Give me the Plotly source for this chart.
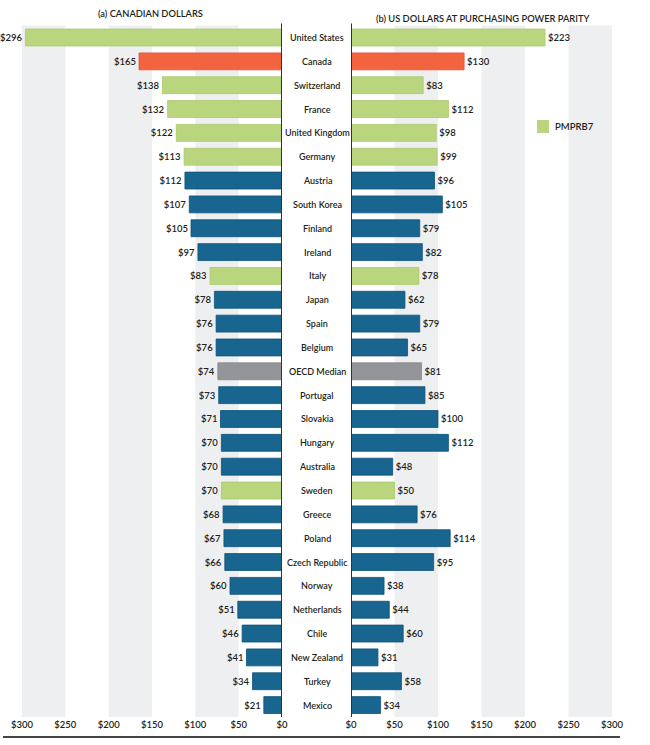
import plotly.graph_objects as go

countries = ["United States", "Canada", "Switzerland", "France", "United Kingdom", "Germany",
             "Austria", "South Korea", "Finland", "Ireland", "Italy", "Japan", "Spain", "Belgium",
             "OECD Median", "Portugal", "Slovakia", "Hungary", "Australia", "Sweden", "Greece",
             "Poland", "Czech Republic", "Norway", "Netherlands", "Chile", "New Zealand", "Turkey", "Mexico"]
cad_values = [296, 165, 138, 132, 122, 113, 112, 107, 105, 97, 83, 78, 76, 76, 74, 73, 71, 70, 70, 70,
              68, 67, 66, 60, 51, 46, 41, 34, 21]
usd_ppp_values = [223, 130, 83, 112, 98, 99, 96, 105, 79, 82, 78, 62, 79, 65, 81, 85, 100, 112, 48, 50,
                  76, 114, 95, 38, 44, 60, 31, 58, 34]
pmprb7 = ["United States", "Switzerland", "France", "United Kingdom", "Germany", "Italy", "Sweden"]
tick_values = [0, 50, 100, 150, 200, 250, 300]
tick_labels = ["$0", "$50", "$100", "$150", "$200", "$250", "$300"]

GREEN = "#b9d67f"
ORANGE = "#f26440"
BLUE = "#186590"
GRAY = "#939598"
BAND = "#eeeff1"
TXT = "#231f20"
FONT = "Lato"
W, H = 650, 745


def group_of(c):
    if c == "Canada":
        return "Canada"
    if c == "OECD Median":
        return "OECD"
    if c in pmprb7:
        return "PMPRB7"
    return "Other"


groups = [("PMPRB7", GREEN, "#a9c96c"), ("Canada", ORANGE, "#e0553a"),
          ("OECD", GRAY, "#858688"), ("Other", BLUE, "#0f5378")]

fig = go.Figure()
for panel, vals, xa in [("a", cad_values, "x"), ("b", usd_ppp_values, "x2")]:
    for g, col, edge in groups:
        ys = [c for c in countries if group_of(c) == g]
        xs = [v for c, v in zip(countries, vals) if group_of(c) == g]
        fig.add_trace(go.Bar(
            y=ys, x=xs, orientation="h", xaxis=xa, yaxis="y",
            marker=dict(color=col, line=dict(color=edge, width=0.8)),
            name=g, showlegend=False,
            text=["$%d" % v for v in xs], textposition="outside",
            textfont=dict(family=FONT, size=9.5, color=TXT, weight=600),
            cliponaxis=False, hoverinfo="skip",
        ))

shapes = []
for lo, hi in [(50, 100), (150, 200), (250, 300)]:
    for xr in ["x", "x2"]:
        shapes.append(dict(type="rect", xref=xr, yref="y domain", x0=lo, x1=hi, y0=0, y1=1,
                           fillcolor=BAND, line=dict(width=0), layer="below"))
for xr in ["x", "x2"]:
    shapes.append(dict(type="line", xref=xr, yref="y domain", x0=0, x1=0, y0=0, y1=1.003,
                       line=dict(color="#333333", width=2), layer="above"))
shapes.append(dict(type="line", xref="paper", yref="paper", x0=3 / W, x1=620 / W,
                   y0=1 - 737 / H, y1=1 - 737 / H, line=dict(color="#444444", width=2)))
# manual legend swatch
shapes.append(dict(type="rect", xref="paper", yref="paper", x0=537 / W, x1=549 / W,
                   y0=1 - 133 / H, y1=1 - 120 / H, fillcolor=GREEN, line=dict(width=0)))

annotations = []
for c in countries:
    annotations.append(dict(xref="paper", yref="y", x=317 / W, y=c, text=c, showarrow=False,
                            xanchor="center", yanchor="middle",
                            font=dict(family=FONT, size=9, color=TXT, weight=600)))
annotations.append(dict(xref="paper", yref="paper", x=150 / W, y=1 - 14 / H,
                        text="(a) CANADIAN DOLLARS", showarrow=False, xanchor="center",
                        yanchor="middle", font=dict(family=FONT, size=9.3, color=TXT, weight=600)))
annotations.append(dict(xref="paper", yref="paper", x=482 / W, y=1 - 18 / H,
                        text="(b) US DOLLARS AT PURCHASING POWER PARITY", showarrow=False,
                        xanchor="center", yanchor="middle",
                        font=dict(family=FONT, size=9.3, color=TXT, weight=600)))
annotations.append(dict(xref="paper", yref="paper", x=553 / W, y=1 - 126.5 / H, text="PMPRB7",
                        showarrow=False, xanchor="left", yanchor="middle",
                        font=dict(family=FONT, size=9.5, color=TXT, weight=600)))

axis_common = dict(tickvals=tick_values, ticktext=tick_labels, showgrid=False, zeroline=False,
                   showline=False, ticks="", tickfont=dict(family=FONT, size=9.5, color=TXT, weight=600),
                   fixedrange=True, automargin=False)

fig.update_layout(
    width=W, height=H,
    margin=dict(l=0, r=0, t=0, b=0, autoexpand=False),
    paper_bgcolor="white", plot_bgcolor="white",
    barmode="overlay", bargap=0.29,
    font=dict(family=FONT, color=TXT),
    showlegend=False,
    xaxis=dict(domain=[22 / W, 282 / W], range=[300, 0], anchor="y", **axis_common),
    xaxis2=dict(domain=[351 / W, 612 / W], range=[0, 300], anchor="y", **axis_common),
    yaxis=dict(domain=[1 - 717 / H, 1 - 25.6 / H], categoryorder="array",
               categoryarray=countries, range=[len(countries) - 0.5, -0.5],
               showticklabels=False, showgrid=False, zeroline=False, showline=False,
               fixedrange=True, automargin=False),
    shapes=shapes, annotations=annotations,
)

fig.write_html("out.html", config={"displayModeBar": False},
               post_script="document.body.style.margin='0';document.body.style.overflow='hidden';")
